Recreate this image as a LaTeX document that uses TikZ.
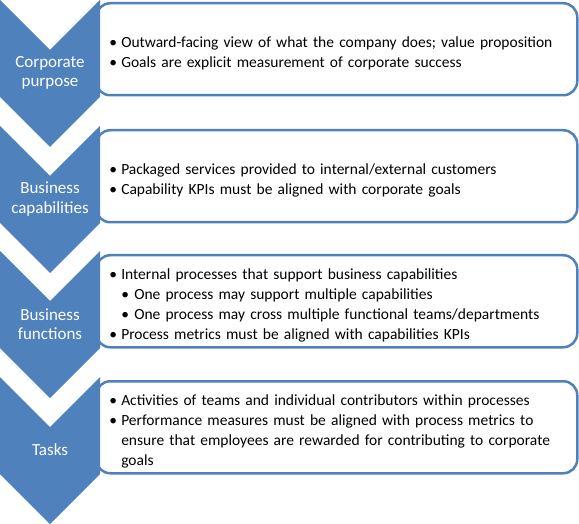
\documentclass[tikz,border=0pt]{standalone}
\usepackage{fontspec}
\setmainfont{Carlito}
\usepackage{enumitem}
\usepackage{tikz}
\usetikzlibrary{positioning}
\definecolor{stageblue}{HTML}{4F81BD}
\setlist[itemize,1]{nosep, label=\textbullet, leftmargin=12pt, labelindent=0pt, labelwidth=12pt, labelsep=0pt, align=left}
\setlist[itemize,2]{nosep, label=\textbullet, leftmargin=13pt, labelindent=0pt, labelwidth=13pt, labelsep=0pt, align=left}

\begin{document}
\begin{tikzpicture}[
  x=1pt, y=-1pt,
  chevron/.style={fill=stageblue, draw=none},
  stagelabel/.style={text=white, font=\fontsize{17}{19.5}\selectfont, align=center, inner sep=0pt},
  detail/.style={
    rectangle, draw=stageblue, line width=2.5pt, fill=white, rounded corners=14pt,
    anchor=north west, minimum width=481pt, minimum height=92pt,
    inner xsep=13pt, text width=455pt, align=left, font=\fontsize{15.5}{20}\selectfont,
  },
]
\useasboundingbox (0,0) rectangle (579,524);

% boxes first, chevrons drawn on top of their left edges
\node[detail] (purpose-box) at (95,2) {%
\begin{itemize}
\item Outward-facing view of what the company does; value proposition
\item Goals are explicit measurement of corporate success
\end{itemize}};
\node[detail] (capabilities-box) at (95,129) {%
\begin{itemize}
\item Packaged services provided to internal/external customers
\item Capability KPIs must be aligned with corporate goals
\end{itemize}};
\node[detail] (functions-box) at (95,254) {%
\begin{itemize}
\item Internal processes that support business capabilities
  \begin{itemize}
  \item One process may support multiple capabilities
  \item One process may cross multiple functional teams/departments
  \end{itemize}
\item Process metrics must be aligned with capabilities KPIs
\end{itemize}};
\node[detail] (tasks-box) at (95,380) {%
\begin{itemize}
\item Activities of teams and individual contributors within processes
\item Performance measures must be aligned with process metrics to\newline
ensure that employees are rewarded for contributing to corporate\newline
goals
\end{itemize}};

% chevrons with their labels
\foreach \name/\top/\txt in {purpose/0/{Corporate\\purpose},
    capabilities/126/{Business\\capabilities},
    functions/251/{Business\\functions},
    tasks/377/{Tasks}} {
  \path[chevron] (0,\top) -- (50,\top+50) -- (100,\top) -- (100,\top+97)
    -- (50,\top+147) -- (0,\top+97) -- cycle;
  \node[stagelabel] (\name) at (50,\top+73) {\txt};
}
\end{tikzpicture}
\end{document}
